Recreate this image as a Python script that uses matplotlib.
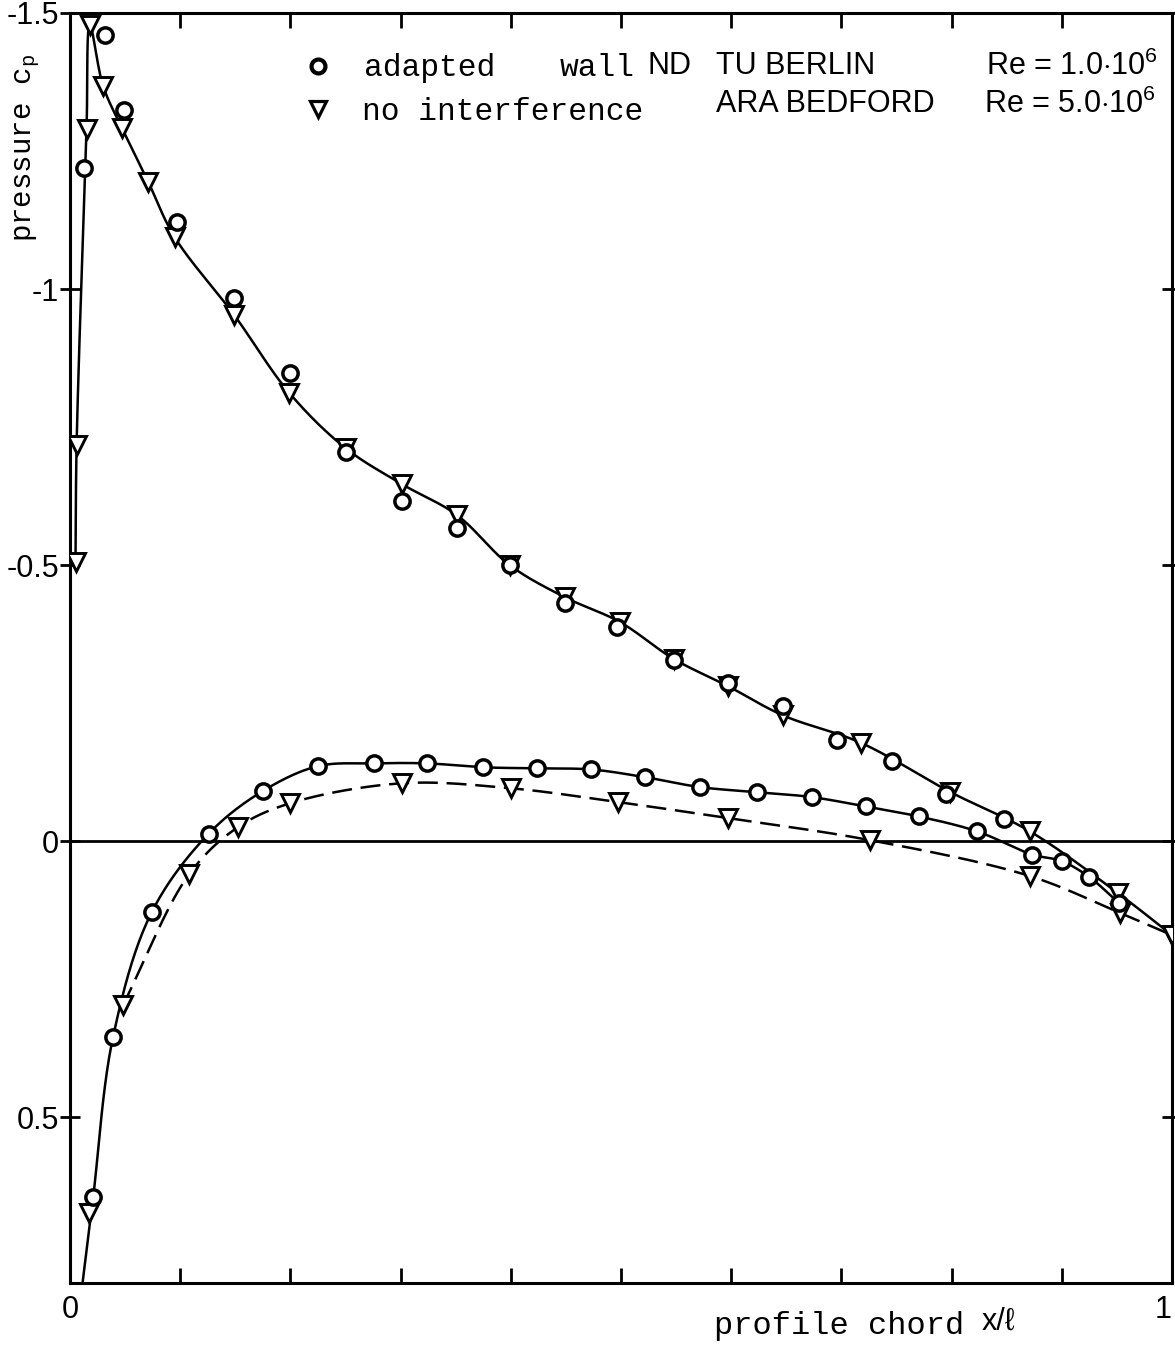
import numpy as np
import matplotlib
matplotlib.use("Agg")
import matplotlib.pyplot as plt

plt.rcParams['mathtext.fontset'] = 'custom'
plt.rcParams['mathtext.rm'] = 'Liberation Sans'
plt.rcParams['mathtext.tt'] = 'Liberation Mono'

MONO = 'Liberation Mono'
SANS = ['Liberation Sans', 'DejaVu Sans']

# adapted wall ND (TU Berlin), upper surface
x_ad_up = [0.013, 0.032, 0.049, 0.097, 0.149, 0.200, 0.250, 0.301, 0.351, 0.399,
           0.449, 0.496, 0.548, 0.597, 0.647, 0.696, 0.746, 0.795, 0.848, 0.900,
           0.925, 0.952]
cp_ad_up = [-1.219, -1.460, -1.324, -1.121, -0.984, -0.848, -0.705, -0.616, -0.567, -0.500,
            -0.431, -0.388, -0.328, -0.286, -0.245, -0.183, -0.145, -0.085, -0.040, 0.036,
            0.065, 0.112]
# adapted wall ND, lower surface
x_ad_lo = [0.021, 0.039, 0.074, 0.126, 0.175, 0.225, 0.276, 0.324, 0.375, 0.424,
           0.473, 0.522, 0.572, 0.623, 0.673, 0.722, 0.770, 0.823, 0.873]
cp_ad_lo = [0.645, 0.355, 0.129, -0.014, -0.091, -0.136, -0.141, -0.141, -0.134, -0.132,
            -0.130, -0.116, -0.098, -0.089, -0.080, -0.063, -0.045, -0.018, 0.024]

# no interference (ARA Bedford), upper surface
x_ni_up = [0.005, 0.006, 0.015, 0.018, 0.030, 0.047, 0.071, 0.095, 0.149, 0.199,
           0.250, 0.301, 0.351, 0.399, 0.449, 0.499, 0.548, 0.597, 0.647, 0.718,
           0.799, 0.871, 0.951, 1.0]
cp_ni_up = [-0.505, -0.717, -1.290, -1.478, -1.368, -1.292, -1.194, -1.094, -0.953, -0.812,
            -0.712, -0.647, -0.591, -0.500, -0.442, -0.397, -0.330, -0.281, -0.228, -0.178,
            -0.089, -0.018, 0.094, 0.170]
# no interference, lower surface
x_ni_lo = [0.017, 0.048, 0.108, 0.152, 0.200, 0.301, 0.400, 0.497, 0.597, 0.726,
           0.871, 0.953, 1.0]
cp_ni_lo = [0.674, 0.297, 0.060, -0.025, -0.069, -0.105, -0.096, -0.071, -0.042, -0.002,
            0.063, 0.130, 0.170]

W, H = 1175, 1345
SX, SY = 1102.0, 552.0   # data units -> pixels, used only to smooth in screen space


def smooth(xs, ys, n=24):
    # centripetal Catmull-Rom through the points, so the fair curves look drawn
    P = np.column_stack([np.asarray(xs) * SX, np.asarray(ys) * SY])
    P = np.vstack([2 * P[0] - P[1], P, 2 * P[-1] - P[-2]])
    out = []
    for i in range(1, len(P) - 2):
        p0, p1, p2, p3 = P[i - 1], P[i], P[i + 1], P[i + 2]
        t0 = 0.0
        t1 = t0 + np.linalg.norm(p1 - p0) ** 0.5
        t2 = t1 + np.linalg.norm(p2 - p1) ** 0.5
        t3 = t2 + np.linalg.norm(p3 - p2) ** 0.5
        t = np.linspace(t1, t2, n)[:, None]
        a1 = (t1 - t) / (t1 - t0) * p0 + (t - t0) / (t1 - t0) * p1
        a2 = (t2 - t) / (t2 - t1) * p1 + (t - t1) / (t2 - t1) * p2
        a3 = (t3 - t) / (t3 - t2) * p2 + (t - t2) / (t3 - t2) * p3
        b1 = (t2 - t) / (t2 - t0) * a1 + (t - t0) / (t2 - t0) * a2
        b2 = (t3 - t) / (t3 - t1) * a2 + (t - t1) / (t3 - t1) * a3
        out.append((t2 - t) / (t2 - t1) * b1 + (t - t1) / (t2 - t1) * b2)
    out = np.vstack(out)
    return out[:, 0] / SX, out[:, 1] / SY


fig = plt.figure(figsize=(W / 100, H / 100), dpi=100)
ax = fig.add_axes([70 / W, 1 - 1283 / H, (1172 - 70) / W, (1283 - 13) / H])

ax.set_xlim(0, 1)
ax.set_ylim(0.8, -1.5)

# zero line
ax.axhline(0, color='black', lw=2.0)

# upper surface fair curve (solid)
ax.plot(*smooth(x_ni_up, cp_ni_up), color='black', lw=1.8)

# lower surface, adapted wall: solid, extended linearly to the axis bottom
slope = (cp_ad_lo[1] - cp_ad_lo[0]) / (x_ad_lo[1] - x_ad_lo[0])
x_start = x_ad_lo[0] + (0.8 - cp_ad_lo[0]) / slope
ax.plot(*smooth([x_start] + x_ad_lo + x_ad_up[-3:], [0.8] + cp_ad_lo + cp_ad_up[-3:]),
        color='black', lw=1.8)

# lower surface, no interference: dashed
ax.plot(*smooth(x_ni_lo[1:], cp_ni_lo[1:]), color='black', lw=1.8, dashes=(8, 3.5))

circ = dict(marker='o', ms=11, mfc='white', mec='black', mew=2.5, ls='none', zorder=5)
tri = dict(marker='v', ms=13, mfc='white', mec='black', mew=2.1, ls='none', zorder=4)
ax.plot(x_ni_up, cp_ni_up, **tri)
ax.plot(x_ni_lo, cp_ni_lo, **tri)
ax.plot(x_ad_up, cp_ad_up, **circ)
ax.plot(x_ad_lo, cp_ad_lo, **circ)

for s in ax.spines.values():
    s.set_linewidth(2.2)

ax.set_xticks(np.arange(0, 1.01, 0.1))
ax.set_xticklabels(['0'] + [''] * 9 + ['1'])
ax.set_yticks([-1.5, -1, -0.5, 0, 0.5])
ax.set_yticklabels(['-1.5', '-1', '-0.5', '0', '0.5'])
ax.tick_params(axis='x', direction='in', length=11, width=2, top=True,
               labelsize=22, pad=9)
ax.tick_params(axis='y', direction='inout', length=14, width=2, right=True,
               labelsize=22, pad=1)
for lab in ax.get_xticklabels() + ax.get_yticklabels():
    lab.set_family(SANS)
ax.get_xticklabels()[-1].set_horizontalalignment('right')

# axis titles
fig.text(28 / W, 1 - 148 / H, r'pressure $\mathtt{c_p}$', rotation=90,
         family=MONO, fontsize=21, ha='center', va='center')
fig.text(714 / W, 1 - 1326 / H, 'profile chord', family=MONO, fontsize=23,
         ha='left', va='center')
fig.text(982 / W, 1 - 1322 / H, 'x/ℓ', family=SANS, fontsize=22,
         ha='left', va='center')

# legend block
fig.add_artist(plt.Line2D([318 / W], [1 - 66 / H], marker='o', ms=10, mfc='white',
                          mec='black', mew=3.0, ls='none'))
fig.add_artist(plt.Line2D([318 / W], [1 - 109 / H], marker='v', ms=12, mfc='white',
                          mec='black', mew=2.3, ls='none'))
fig.text(364 / W, 1 - 68 / H, 'adapted', family=MONO, fontsize=22.5, va='center')
fig.text(560 / W, 1 - 68 / H, 'wall', family=MONO, fontsize=22.5, va='center')
fig.text(648 / W, 1 - 66 / H, 'ND', family=SANS, fontsize=22, va='center')
fig.text(362 / W, 1 - 112 / H, 'no interference', family=MONO, fontsize=22.5,
         va='center')
fig.text(716 / W, 1 - 66 / H, 'TU BERLIN', family=SANS, fontsize=22, va='center')
fig.text(716 / W, 1 - 104 / H, 'ARA BEDFORD', family=SANS, fontsize=22, va='center')
fig.text(986 / W, 1 - 66 / H, r'Re = 1.0$\cdot$10$^6$', family=SANS, fontsize=22,
         va='center')
fig.text(984 / W, 1 - 104 / H, r'Re = 5.0$\cdot$10$^6$', family=SANS, fontsize=22,
         va='center')

fig.savefig('out.png', dpi=100, facecolor='white')
